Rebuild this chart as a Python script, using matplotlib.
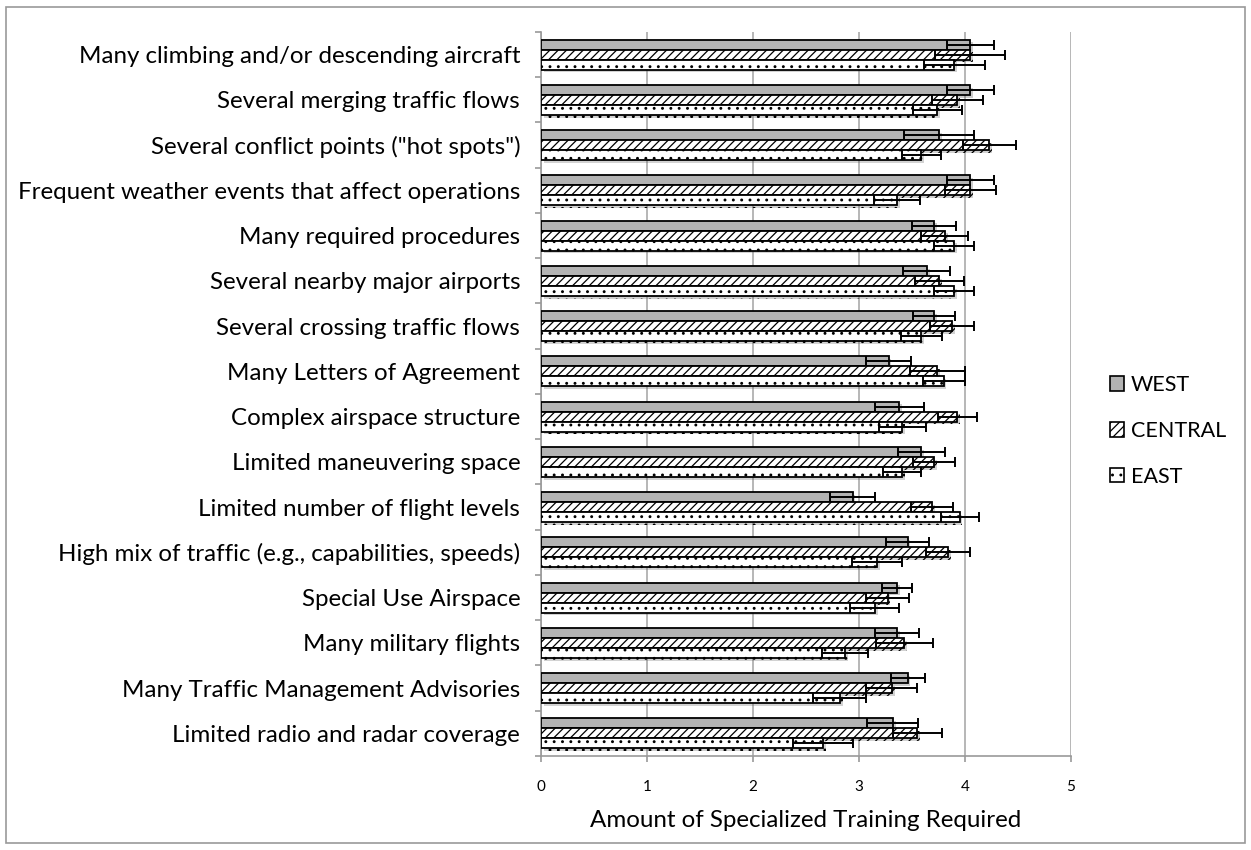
import matplotlib
matplotlib.use("Agg")
import matplotlib.pyplot as plt
import numpy as np
from matplotlib.patches import Rectangle, Patch
import matplotlib.patheffects as pe

categories = [
    "Many climbing and/or descending aircraft",
    "Several merging traffic flows",
    "Several conflict points (\"hot spots\")",
    "Frequent weather events that affect operations",
    "Many required procedures",
    "Several nearby major airports",
    "Several crossing traffic flows",
    "Many Letters of Agreement",
    "Complex airspace structure",
    "Limited maneuvering space",
    "Limited number of flight levels",
    "High mix of traffic (e.g., capabilities, speeds)",
    "Special Use Airspace",
    "Many military flights",
    "Many Traffic Management Advisories",
    "Limited radio and radar coverage",
]
west = [4.05, 4.05, 3.76, 4.05, 3.71, 3.64, 3.71, 3.28, 3.38, 3.59, 2.94, 3.46, 3.36, 3.36, 3.46, 3.32]
west_err = [0.22, 0.22, 0.33, 0.22, 0.21, 0.22, 0.20, 0.21, 0.23, 0.22, 0.21, 0.20, 0.14, 0.21, 0.16, 0.24]
central = [4.05, 3.93, 4.23, 4.05, 3.81, 3.76, 3.88, 3.74, 3.93, 3.71, 3.69, 3.84, 3.27, 3.43, 3.31, 3.55]
central_err = [0.33, 0.24, 0.25, 0.24, 0.22, 0.23, 0.21, 0.26, 0.18, 0.20, 0.20, 0.21, 0.20, 0.27, 0.24, 0.23]
east = [3.90, 3.74, 3.59, 3.36, 3.90, 3.90, 3.59, 3.80, 3.41, 3.41, 3.95, 3.17, 3.15, 2.87, 2.82, 2.66]
east_err = [0.29, 0.23, 0.18, 0.22, 0.19, 0.19, 0.19, 0.20, 0.22, 0.18, 0.18, 0.24, 0.23, 0.22, 0.25, 0.28]
series_names = ["WEST", "CENTRAL", "EAST"]
xticks = [0, 1, 2, 3, 4, 5]

plt.rcParams['font.family'] = ['Lato', 'DejaVu Sans']
plt.rcParams['hatch.linewidth'] = 0.9

fig = plt.figure(figsize=(12.51, 8.5), dpi=100)
ax = fig.add_axes([0.4325, 0.1106, 0.4235, 0.8518])

n = len(categories)
y = np.arange(n)
h = 0.22
styles = [
    dict(color="#b3b3b3", hatch=None),
    dict(color="white", hatch="////"),
    dict(color="white", hatch=".."),
]
data = [(west, west_err), (central, central_err), (east, east_err)]
shadow = [pe.SimplePatchShadow(offset=(2, -2), alpha=0.25), pe.Normal()]
for i, ((vals, errs), st) in enumerate(zip(data, styles)):
    pos = y + (i - 1) * h
    bars = ax.barh(pos, vals, height=h, color=st["color"], edgecolor="black",
                   linewidth=1.3, hatch=st["hatch"], zorder=3, label=series_names[i])
    for b in bars:
        b.set_path_effects(shadow)
    ax.errorbar(vals, pos, xerr=errs, fmt="none", ecolor="black", elinewidth=1.4,
                capsize=3.5, capthick=1.4, zorder=4)

ax.set_ylim(n - 0.5, -0.5)
ax.set_xlim(0, 5)
ax.set_xticks(xticks)
ax.set_xticklabels([str(t) for t in xticks], fontsize=11)
ax.set_yticks(y)
ax.set_yticklabels(categories, fontsize=17.4)
ax.set_yticks(np.arange(n + 1) - 0.5, minor=True)
ax.tick_params(axis="y", which="major", length=0, pad=15)
ax.tick_params(axis="y", which="minor", length=4, color="#999999", width=1.2)
ax.tick_params(axis="x", which="major", length=4, color="#999999", width=1.2, direction="out", pad=13)
ax.grid(axis="x", color="#aaaaaa", linewidth=1.2, zorder=0)
for s in ["top", "right"]:
    ax.spines[s].set_visible(False)
ax.spines["left"].set_color("#999999")
ax.spines["left"].set_linewidth(1.2)
ax.spines["bottom"].set_color("#999999")
ax.spines["bottom"].set_linewidth(1.2)
ax.set_xlabel("Amount of Specialized Training Required", fontsize=17.4, labelpad=12)

handles = [Patch(facecolor=st["color"], edgecolor="black", hatch=st["hatch"], linewidth=1.2)
           for st in styles]
fig.legend(handles, series_names, loc="center left", bbox_to_anchor=(1110 / 1251, 1 - 431 / 850),
           frameon=False, fontsize=15.5, handlelength=0.65, handleheight=0.65,
           handletextpad=0.33, labelspacing=1.2, borderpad=0, borderaxespad=0)

fig.patches.append(Rectangle((0.005, 0.008), 0.99, 0.984, transform=fig.transFigure,
                             fill=False, edgecolor="#999999", linewidth=1.2))
fig.savefig("out.png", dpi=100)
